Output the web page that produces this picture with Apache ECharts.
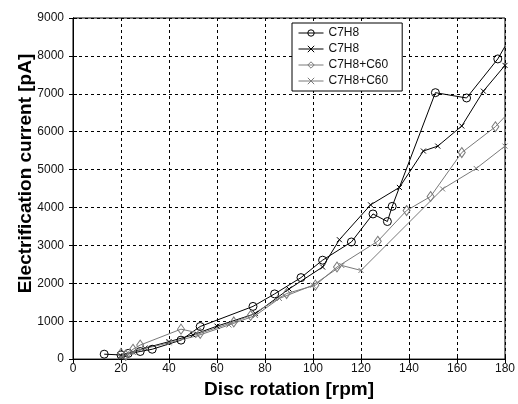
<!DOCTYPE html>
<html>
<head>
<meta charset="utf-8">
<script src="https://cdn.jsdelivr.net/npm/echarts@6/dist/echarts.min.js"></script>
<style>
html,body{margin:0;padding:0;background:#fff;}
#chart{width:518px;height:404px;}
</style>
</head>
<body>
<div id="chart"></div>
<script>
// series names (legend); text after '#' only keeps the two pairs apart
var seriesNames = ['C7H8#a', 'C7H8#b', 'C7H8+C60#a', 'C7H8+C60#b'];

// C7H8, circles
var rpm1 = [13, 20, 23, 28, 33, 45, 53, 75, 84, 95, 104, 116, 125, 131, 133, 151, 164, 177, 180];
var cur1 = [130, 110, 150, 200, 260, 500, 860, 1390, 1720, 2150, 2610, 3090, 3830, 3630, 4030, 7030, 6890, 7920, 8250];

// C7H8, crosses
var rpm2 = [20, 22, 25, 30, 40, 50, 60, 76, 90, 104, 111, 124, 136, 146, 152, 162, 171, 180];
var cur2 = [90, 130, 190, 290, 460, 640, 870, 1200, 1850, 2430, 3150, 4070, 4530, 5490, 5620, 6150, 7070, 7750];

// C7H8+C60, diamonds
var rpm3 = [20, 22, 25, 28, 45, 53, 67, 74, 89, 101, 110, 127, 139, 149, 162, 176, 180];
var cur3 = [150, 100, 260, 370, 790, 680, 980, 1150, 1730, 1950, 2430, 3110, 3920, 4290, 5450, 6130, 6400];

// C7H8+C60, crosses
var rpm4 = [20, 22, 25, 30, 40, 52, 65, 76, 86, 100, 112, 120, 154, 168, 180];
var cur4 = [60, 120, 180, 280, 430, 620, 900, 1150, 1600, 1950, 2470, 2340, 4490, 5030, 5620];

var xTicks = [0, 20, 40, 60, 80, 100, 120, 140, 160, 180];
var yTicks = [0, 1000, 2000, 3000, 4000, 5000, 6000, 7000, 8000, 9000];

var FONT = '"Liberation Sans", Arial, sans-serif';
var crossPath = 'path://M0,0L10,10M10,0L0,10';

function pairs(xs, ys, hideLast) {
	var out = [];
	for (var i = 0; i < xs.length; i++) {
		if (hideLast && i == xs.length - 1) {
			// line runs on to the frame, marker falls outside
			out.push({value: [xs[i], ys[i]], symbol: 'none'});
		} else {
			out.push([xs[i], ys[i]]);
		}
	}
	return out;
}

function makeSeries(name, data, color, symbol, size) {
	return {
		name: name,
		type: 'line',
		data: data,
		symbol: symbol,
		symbolSize: size,
		clip: true,
		lineStyle: {color: color, width: 1},
		itemStyle: {color: 'rgba(0,0,0,0)', borderColor: color, borderWidth: 1},
		emphasis: {disabled: true},
		z: 3
	};
}

function plainNum(v) {
	return String(v);
}

var chart = echarts.init(document.getElementById('chart'));

var option = {
	animation: false,
	backgroundColor: '#fff',
	grid: {left: 73, right: 10, top: 18, bottom: 43, show: true, borderColor: '#000', borderWidth: 1},
	legend: {
		data: seriesNames,
		orient: 'vertical',
		left: 292,
		top: 23,
		backgroundColor: '#fff',
		borderColor: '#000',
		borderWidth: 1,
		padding: [4, 14, 4, 6],
		itemWidth: 25,
		itemHeight: 8,
		itemGap: 4,
		lineStyle: {width: 1},
		itemStyle: {color: 'rgba(0,0,0,0)', borderWidth: 1},
		formatter: function (name) {
			return name.split('#')[0];
		},
		textStyle: {fontFamily: FONT, fontSize: 12, color: '#111'}
	},
	xAxis: [{
		type: 'value',
		min: xTicks[0],
		max: xTicks[xTicks.length - 1],
		interval: xTicks[1] - xTicks[0],
		name: 'Disc rotation [rpm]',
		nameLocation: 'middle',
		nameGap: 18,
		nameTextStyle: {fontFamily: FONT, fontSize: 19, fontWeight: 'bold', color: '#000'},
		axisLine: {show: true, lineStyle: {color: '#000', width: 1}},
		axisTick: {show: true, inside: true, length: 4, lineStyle: {color: '#000'}},
		axisLabel: {fontFamily: FONT, fontSize: 12, color: '#111', margin: 4, formatter: plainNum},
		splitLine: {show: true, lineStyle: {color: '#000', width: 1, type: [3, 3]}}
	}, {
		type: 'value',
		position: 'top',
		min: xTicks[0],
		max: xTicks[xTicks.length - 1],
		interval: xTicks[1] - xTicks[0],
		axisLine: {show: true, lineStyle: {color: '#000'}},
		axisTick: {show: true, inside: true, length: 4, lineStyle: {color: '#000'}},
		axisLabel: {show: false},
		splitLine: {show: false}
	}],
	yAxis: [{
		type: 'value',
		min: yTicks[0],
		max: yTicks[yTicks.length - 1],
		interval: yTicks[1] - yTicks[0],
		name: 'Electrification current [pA]',
		nameLocation: 'middle',
		nameGap: 38,
		nameMoveOverlap: false,
		nameTextStyle: {fontFamily: FONT, fontSize: 19, fontWeight: 'bold', color: '#000', padding: [0, 0, 0, 30]},
		axisLine: {show: true, lineStyle: {color: '#000', width: 1}},
		axisTick: {show: true, inside: true, length: 4, lineStyle: {color: '#000'}},
		axisLabel: {fontFamily: FONT, fontSize: 12, color: '#111', margin: 9, formatter: plainNum},
		splitLine: {show: true, lineStyle: {color: '#000', width: 1, type: [3, 3]}}
	}, {
		type: 'value',
		position: 'right',
		min: yTicks[0],
		max: yTicks[yTicks.length - 1],
		interval: yTicks[1] - yTicks[0],
		axisLine: {show: true, lineStyle: {color: '#000'}},
		axisTick: {show: true, inside: true, length: 4, lineStyle: {color: '#000'}},
		axisLabel: {show: false},
		splitLine: {show: false}
	}],
	series: [
		makeSeries(seriesNames[0], pairs(rpm1, cur1, true), '#000', 'circle', 8),
		makeSeries(seriesNames[1], pairs(rpm2, cur2, false), '#000', crossPath, 5),
		makeSeries(seriesNames[2], pairs(rpm3, cur3, true), '#7a7a7a', 'diamond', [7, 10]),
		makeSeries(seriesNames[3], pairs(rpm4, cur4, false), '#7a7a7a', crossPath, 5)
	]
};
chart.setOption(option);
</script>
</body>
</html>
